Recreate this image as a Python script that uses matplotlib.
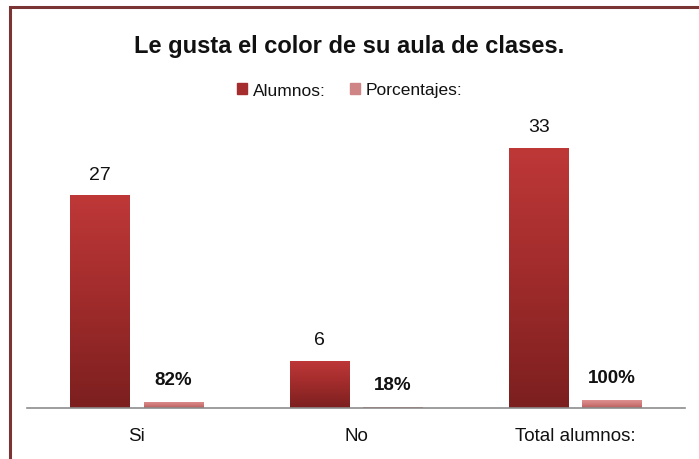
import matplotlib
matplotlib.use("Agg")
import matplotlib.pyplot as plt
import numpy as np
from matplotlib import font_manager
from matplotlib.patches import Rectangle
from matplotlib.colors import LinearSegmentedColormap

# Data
categories = ["Si", "No", "Total alumnos:"]
alumnos = [27, 6, 33]
porcentajes = [0.82, 0.18, 1.00]
porcentaje_labels = ["82%", "18%", "100%"]
series_names = ["Alumnos:", "Porcentajes:"]
title = "Le gusta el color de su aula de clases."


def pick_font(names):
    for n in names:
        try:
            font_manager.findfont(n, fallback_to_default=False)
            return n
        except Exception:
            continue
    return "DejaVu Sans"


FONT = pick_font(["Liberation Sans Narrow", "Liberation Sans", "Arimo"])
NARROW = FONT == "Liberation Sans Narrow"
k = 1.2 if NARROW else 1.0
plt.rcParams["font.family"] = [FONT, "DejaVu Sans"]

W, H, DPI = 699, 460, 100
fig = plt.figure(figsize=(W / DPI, H / DPI), dpi=DPI)
fig.patch.set_facecolor("white")

ax = fig.add_axes([27 / W, 51 / H, (685 - 27) / W, 284 / H])
ax.set_xlim(-0.5, 2.5)
ax.set_ylim(0, 36)

x = np.arange(len(categories))
width = 0.27
offset = 0.1667

cmap_a = LinearSegmentedColormap.from_list("a", ["#7c1f1f", "#a02b2b", "#bf3838"])
cmap_p = LinearSegmentedColormap.from_list("p", ["#b85c5c", "#d07a7a", "#de9090"])


def gradient_bars(xs, vals, cmap, color):
    bars = ax.bar(xs, vals, width=width, color=color, zorder=2, linewidth=0)
    grad = np.linspace(0, 1, 256).reshape(-1, 1)
    for b in bars:
        x0, y0 = b.get_x(), b.get_y()
        w, h = b.get_width(), b.get_height()
        im = ax.imshow(grad, cmap=cmap, aspect="auto", origin="lower",
                       extent=(x0, x0 + w, y0, y0 + h), zorder=3,
                       interpolation="bilinear")
        im.set_clip_path(b)
    return bars


bars_a = gradient_bars(x - offset, alumnos, cmap_a, "#a52d2d")
bars_p = gradient_bars(x + offset, porcentajes, cmap_p, "#cf7b7b")

for b, v in zip(bars_a, alumnos):
    ax.annotate(str(v), (b.get_x() + b.get_width() / 2, b.get_height()),
                xytext=(0, 15), textcoords="offset points",
                ha="center", va="center", fontsize=14 * k, color="#111111")
for b, t in zip(bars_p, porcentaje_labels):
    ax.annotate(t, (b.get_x() + b.get_width() / 2, b.get_height()),
                xytext=(0, 16), textcoords="offset points",
                ha="center", va="center", fontsize=13.5 * k, fontweight="bold",
                color="#111111")

ax.set_xticks(x)
ax.set_xticklabels(categories, fontsize=13.5 * k, color="#111111")
ax.tick_params(axis="x", length=0, pad=14)
ax.set_yticks([])
for s in ["top", "right", "left"]:
    ax.spines[s].set_visible(False)
ax.spines["bottom"].set_color("#8c8c8c")
ax.spines["bottom"].set_linewidth(1.2)
ax.spines["bottom"].set_zorder(4)

fig.text(0.5, 1 - 46 / H, title, ha="center", va="center",
         fontsize=17 * k, fontweight="bold", color="#111111")

handles = [Rectangle((0, 0), 1, 1, color="#a52d2d"),
           Rectangle((0, 0), 1, 1, color="#cf8585")]
fig.legend(handles, series_names, loc="center", bbox_to_anchor=(0.5, 1 - 91 / H),
           ncol=2, frameon=False, fontsize=12.5 * k, handlelength=0.6,
           handleheight=0.6, handletextpad=0.3, columnspacing=1.4,
           labelcolor="#111111")

# Outer frame
frame = Rectangle((10, -20), W + 20, H - 8 + 20, transform=None, fill=False,
                  edgecolor="#7b3434", linewidth=2.2)
fig.add_artist(frame)

fig.savefig("out.png", dpi=DPI)
